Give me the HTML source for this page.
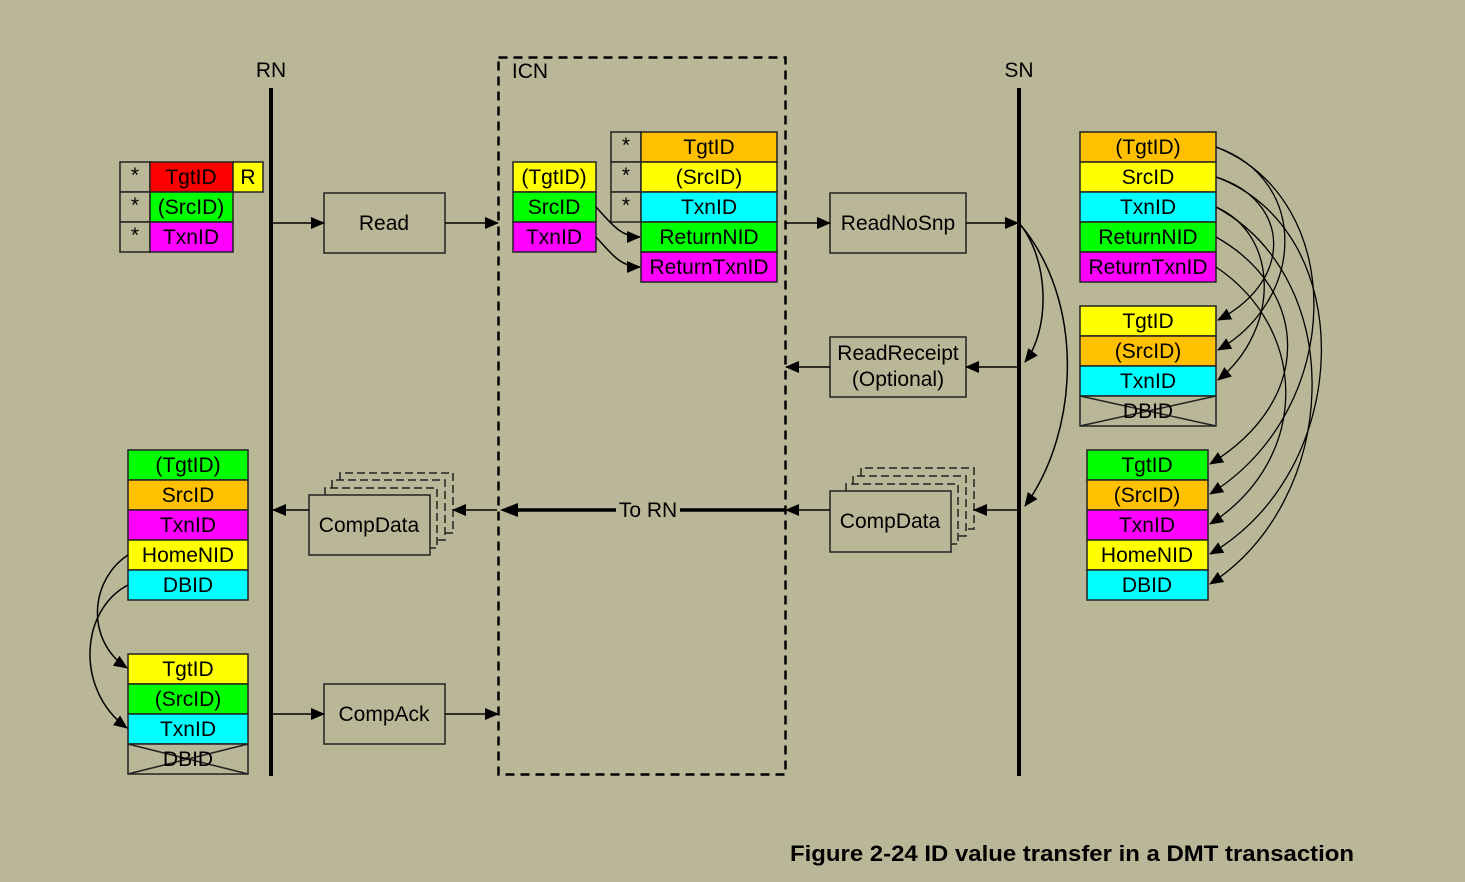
<!DOCTYPE html>
<html><head><meta charset="utf-8"><style>
html,body{margin:0;padding:0;background:#b9b797;}
svg{display:block;}
text{font-family:"Liberation Sans",Arial,sans-serif;font-size:21px;fill:#000;}
</style></head><body>
<svg width="1465" height="882" viewBox="0 0 1465 882" xmlns="http://www.w3.org/2000/svg">
<defs>
<marker id="a" markerWidth="14" markerHeight="12" refX="13" refY="6" orient="auto" markerUnits="userSpaceOnUse"><path d="M0,0 L14,6 L0,12 z" fill="#000"/></marker>
</defs>
<rect width="1465" height="882" fill="#b9b797"/>

<text x="271" y="77" text-anchor="middle">RN</text>
<text x="530" y="78" text-anchor="middle">ICN</text>
<text x="1019" y="77" text-anchor="middle">SN</text>
<line x1="271" y1="88" x2="271" y2="776" stroke="#000" stroke-width="4"/>
<line x1="1019" y1="88" x2="1019" y2="776" stroke="#000" stroke-width="4"/>
<rect x="498.5" y="57.5" width="287" height="717" fill="none" stroke="#000" stroke-width="2.5" stroke-dasharray="9,6"/>

<g stroke="#222" stroke-width="1.5">
<rect x="120" y="162" width="30" height="30" fill="#b9b797"/>
<rect x="120" y="192" width="30" height="30" fill="#b9b797"/>
<rect x="120" y="222" width="30" height="30" fill="#b9b797"/>
<rect x="150" y="162" width="83" height="30" fill="#ff0000"/>
<rect x="233" y="162" width="30" height="30" fill="#ffff00"/>
<rect x="150" y="192" width="83" height="30" fill="#00ff00"/>
<rect x="150" y="222" width="83" height="30" fill="#ff00ff"/>
<rect x="513" y="162" width="83" height="30" fill="#ffff00"/>
<rect x="513" y="192" width="83" height="30" fill="#00ff00"/>
<rect x="513" y="222" width="83" height="30" fill="#ff00ff"/>
<rect x="611" y="132" width="30" height="30" fill="#b9b797"/>
<rect x="611" y="162" width="30" height="30" fill="#b9b797"/>
<rect x="611" y="192" width="30" height="30" fill="#b9b797"/>
<rect x="641" y="132" width="136" height="30" fill="#ffc000"/>
<rect x="641" y="162" width="136" height="30" fill="#ffff00"/>
<rect x="641" y="192" width="136" height="30" fill="#00ffff"/>
<rect x="641" y="222" width="136" height="30" fill="#00ff00"/>
<rect x="641" y="252" width="136" height="30" fill="#ff00ff"/>
<rect x="1080" y="132" width="136" height="30" fill="#ffc000"/>
<rect x="1080" y="162" width="136" height="30" fill="#ffff00"/>
<rect x="1080" y="192" width="136" height="30" fill="#00ffff"/>
<rect x="1080" y="222" width="136" height="30" fill="#00ff00"/>
<rect x="1080" y="252" width="136" height="30" fill="#ff00ff"/>
<rect x="1080" y="306" width="136" height="30" fill="#ffff00"/>
<rect x="1080" y="336" width="136" height="30" fill="#ffc000"/>
<rect x="1080" y="366" width="136" height="30" fill="#00ffff"/>
<rect x="1080" y="396" width="136" height="30" fill="#b9b797"/>
<line x1="1080" y1="396" x2="1216" y2="426"/><line x1="1080" y1="426" x2="1216" y2="396"/>
<rect x="1087" y="450" width="121" height="30" fill="#00ff00"/>
<rect x="1087" y="480" width="121" height="30" fill="#ffc000"/>
<rect x="1087" y="510" width="121" height="30" fill="#ff00ff"/>
<rect x="1087" y="540" width="121" height="30" fill="#ffff00"/>
<rect x="1087" y="570" width="121" height="30" fill="#00ffff"/>
<rect x="128" y="450" width="120" height="30" fill="#00ff00"/>
<rect x="128" y="480" width="120" height="30" fill="#ffc000"/>
<rect x="128" y="510" width="120" height="30" fill="#ff00ff"/>
<rect x="128" y="540" width="120" height="30" fill="#ffff00"/>
<rect x="128" y="570" width="120" height="30" fill="#00ffff"/>
<rect x="128" y="654" width="120" height="30" fill="#ffff00"/>
<rect x="128" y="684" width="120" height="30" fill="#00ff00"/>
<rect x="128" y="714" width="120" height="30" fill="#00ffff"/>
<rect x="128" y="744" width="120" height="30" fill="#b9b797"/>
<line x1="128" y1="744" x2="248" y2="774"/><line x1="128" y1="774" x2="248" y2="744"/>
<rect x="324" y="193" width="121" height="60" fill="#b9b797"/>
<rect x="830" y="193" width="136" height="60" fill="#b9b797"/>
<rect x="830" y="337" width="136" height="60" fill="#b9b797"/>
<rect x="324" y="684" width="121" height="60" fill="#b9b797"/>
</g>

<g fill="none" stroke="#222" stroke-width="1.5" stroke-dasharray="8,4">
<path d="M325,495 V488 H437 V548 H430"/>
<path d="M332,488 V480 H445 V540 H437"/>
<path d="M340,480 V473 H453 V533 H445"/>
<path d="M846,491 V484 H958 V544 H951"/>
<path d="M853,484 V476 H966 V536 H958"/>
<path d="M861,476 V468 H974 V529 H966"/>
</g>
<g stroke="#222" stroke-width="1.5">
<rect x="309" y="495" width="121" height="60" fill="#b9b797"/>
<rect x="830" y="491" width="121" height="61" fill="#b9b797"/>
</g>

<g text-anchor="middle">
<text x="135" y="182">*</text><text x="135" y="212">*</text><text x="135" y="242">*</text>
<text x="191" y="184">TgtID</text><text x="248" y="184">R</text>
<text x="191" y="214">(SrcID)</text><text x="191" y="244">TxnID</text>
<text x="554" y="184">(TgtID)</text><text x="554" y="214">SrcID</text><text x="554" y="244">TxnID</text>
<text x="626" y="152">*</text><text x="626" y="182">*</text><text x="626" y="212">*</text>
<text x="709" y="154">TgtID</text><text x="709" y="184">(SrcID)</text><text x="709" y="214">TxnID</text>
<text x="709" y="244">ReturnNID</text><text x="709" y="274">ReturnTxnID</text>
<text x="1148" y="154">(TgtID)</text><text x="1148" y="184">SrcID</text><text x="1148" y="214">TxnID</text>
<text x="1148" y="244">ReturnNID</text><text x="1148" y="274">ReturnTxnID</text>
<text x="1148" y="328">TgtID</text><text x="1148" y="358">(SrcID)</text><text x="1148" y="388">TxnID</text><text x="1148" y="418">DBID</text>
<text x="1147" y="472">TgtID</text><text x="1147" y="502">(SrcID)</text><text x="1147" y="532">TxnID</text>
<text x="1147" y="562">HomeNID</text><text x="1147" y="592">DBID</text>
<text x="188" y="472">(TgtID)</text><text x="188" y="502">SrcID</text><text x="188" y="532">TxnID</text>
<text x="188" y="562">HomeNID</text><text x="188" y="592">DBID</text>
<text x="188" y="676">TgtID</text><text x="188" y="706">(SrcID)</text><text x="188" y="736">TxnID</text><text x="188" y="766">DBID</text>
<text x="384" y="230">Read</text>
<text x="898" y="230">ReadNoSnp</text>
<text x="898" y="360">ReadReceipt</text>
<text x="898" y="386">(Optional)</text>
<text x="369" y="532">CompData</text>
<text x="890" y="528">CompData</text>
<text x="384" y="721">CompAck</text>
</g>

<g stroke="#000" stroke-width="1.5" fill="none">
<line x1="273" y1="223" x2="324" y2="223" marker-end="url(#a)"/>
<line x1="445" y1="223" x2="498" y2="223" marker-end="url(#a)"/>
<line x1="786" y1="223" x2="830" y2="223" marker-end="url(#a)"/>
<line x1="966" y1="223" x2="1018" y2="223" marker-end="url(#a)"/>
<line x1="1018" y1="367" x2="966" y2="367" marker-end="url(#a)"/>
<line x1="830" y1="367" x2="786" y2="367" marker-end="url(#a)"/>
<line x1="1018" y1="510" x2="974" y2="510" marker-end="url(#a)"/>
<line x1="830" y1="510" x2="786" y2="510" marker-end="url(#a)"/>
<line x1="497" y1="510" x2="453" y2="510" marker-end="url(#a)"/>
<line x1="309" y1="510" x2="273" y2="510" marker-end="url(#a)"/>
<line x1="273" y1="714" x2="324" y2="714" marker-end="url(#a)"/>
<line x1="445" y1="714" x2="498" y2="714" marker-end="url(#a)"/>
<path d="M596,207 C610,222 620,237 640,237" marker-end="url(#a)"/>
<path d="M596,237 C610,252 620,267 640,267" marker-end="url(#a)"/>
<path d="M1019,223 C1050,260 1050,330 1025,362" marker-end="url(#a)"/>
<path d="M1019,223 C1085,300 1080,430 1025,506" marker-end="url(#a)"/>
<path d="M128,555 C90,580 85,640 127,668" marker-end="url(#a)"/>
<path d="M128,585 C80,610 75,690 127,728" marker-end="url(#a)"/>
</g>
<g stroke="#000" stroke-width="1.3" fill="none">
<path d="M1216,177 C1290,200 1295,280 1218,320" marker-end="url(#a)"/>
<path d="M1216,147 C1310,180 1305,300 1218,350" marker-end="url(#a)"/>
<path d="M1216,207 C1280,235 1280,330 1218,380" marker-end="url(#a)"/>
<path d="M1216,237 C1310,290 1315,400 1210,464" marker-end="url(#a)"/>
<path d="M1216,147 C1350,200 1345,410 1210,494" marker-end="url(#a)"/>
<path d="M1216,267 C1310,330 1310,460 1210,524" marker-end="url(#a)"/>
<path d="M1216,177 C1360,230 1355,470 1210,554" marker-end="url(#a)"/>
<path d="M1216,207 C1350,280 1340,500 1210,584" marker-end="url(#a)"/>
</g>
<line x1="785" y1="510" x2="680" y2="510" stroke="#000" stroke-width="3.5"/>
<line x1="616" y1="510" x2="518" y2="510" stroke="#000" stroke-width="3.5"/>
<path d="M500,510 L518,503 L518,517 z" fill="#000"/>
<text x="648" y="517" text-anchor="middle">To RN</text>

<text x="790" y="861" style="font-weight:bold;font-size:22px" textLength="564" lengthAdjust="spacingAndGlyphs">Figure 2-24 ID value transfer in a DMT transaction</text>
</svg>
</body></html>
